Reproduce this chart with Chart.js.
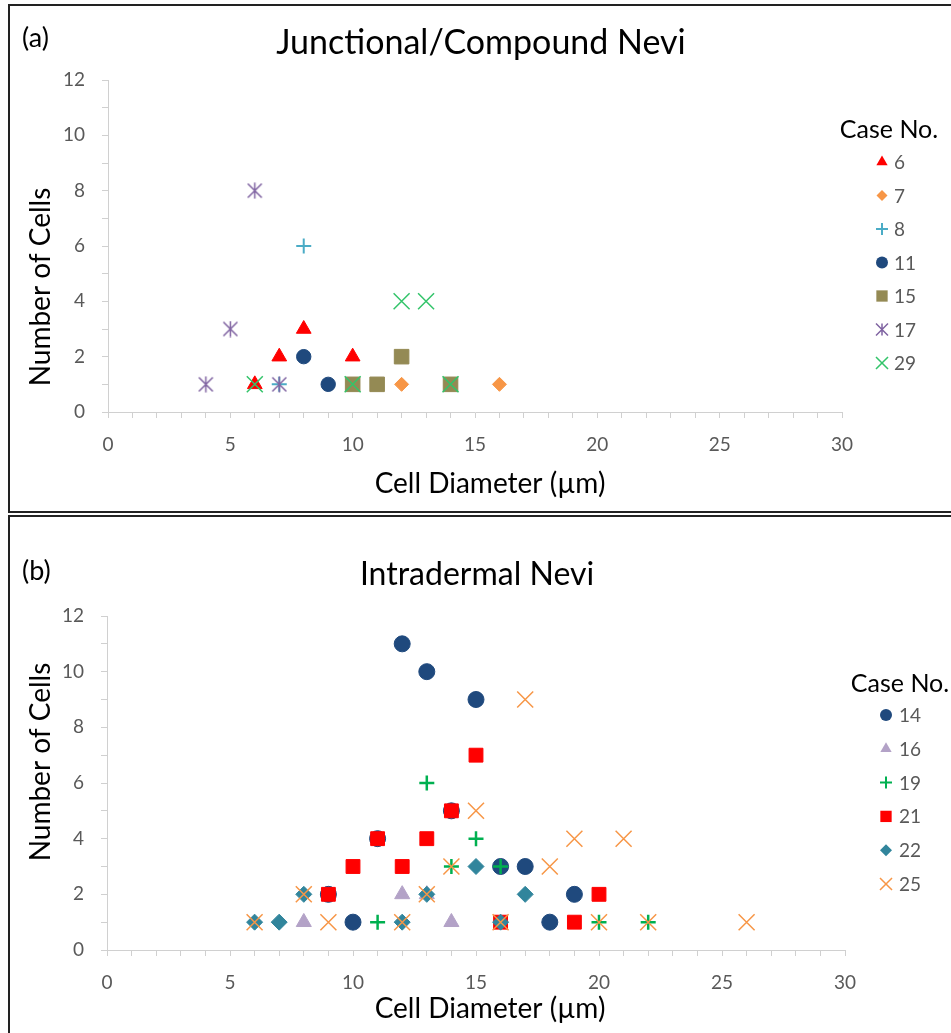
<!DOCTYPE html>
<html><head><meta charset="utf-8">
<script src="https://cdn.jsdelivr.net/npm/chart.js@4.4.1/dist/chart.umd.min.js"></script>
<style>
html,body{margin:0;padding:0;background:#fff;overflow:hidden;width:951px;height:1033px}
.panel{position:absolute;box-sizing:border-box;border:2px solid #222;pointer-events:none}
#p1{left:8px;top:4px;width:960px;height:509px;}
#p2{left:8px;top:515px;width:960px;height:540px;}
canvas{position:absolute;left:0}
#c1{top:0}
#c2{top:515px}
</style></head>
<body>
<canvas id="c1" width="951" height="515"></canvas>
<canvas id="c2" width="951" height="518"></canvas>
<div class="panel" id="p1"></div><div class="panel" id="p2"></div>
<script>
// ---------- data ----------
const xTickLabels = [0, 5, 10, 15, 20, 25, 30];
const yTickLabels = [0, 2, 4, 6, 8, 10, 12];

// (a) Junctional/Compound Nevi
const caseA = ['6', '7', '8', '11', '15', '17', '29'];
const a6x = [6, 7, 8, 10];            const a6y = [1, 2, 3, 2];
const a7x = [12, 16];                 const a7y = [1, 1];
const a8x = [7, 8];                   const a8y = [1, 6];
const a11x = [8, 9];                  const a11y = [2, 1];
const a15x = [10, 11, 12, 14];        const a15y = [1, 1, 2, 1];
const a17x = [4, 5, 6, 7];            const a17y = [1, 3, 8, 1];
const a29x = [6, 10, 12, 13, 14];     const a29y = [1, 1, 4, 4, 1];

// (b) Intradermal Nevi
const caseB = ['14', '16', '19', '21', '22', '25'];
const b14x = [9, 10, 11, 12, 13, 14, 15, 16, 17, 18, 19];
const b14y = [2, 1, 4, 11, 10, 5, 9, 3, 3, 1, 2];
const b16x = [8, 12, 13, 14];         const b16y = [1, 2, 2, 1];
const b19x = [11, 13, 14, 15, 16, 20, 22];
const b19y = [1, 6, 3, 4, 3, 1, 1];
const b21x = [9, 10, 11, 12, 13, 14, 15, 16, 19, 20];
const b21y = [2, 3, 4, 3, 4, 5, 7, 1, 1, 2];
const b22x = [6, 7, 8, 12, 13, 15, 16, 17];
const b22y = [1, 1, 2, 1, 2, 3, 1, 2];
const b25x = [6, 8, 9, 12, 13, 14, 15, 16, 17, 18, 19, 20, 21, 22, 26];
const b25y = [1, 2, 1, 1, 2, 3, 5, 1, 9, 3, 4, 1, 4, 1, 1];

// ---------- styles ----------
const FONT = 'Lato, "Open Sans", sans-serif';
const GREY = '#595959';
const AXIS = '#d0d0d0';

function asteriskCanvas(color, size, lw) {
  const c = document.createElement('canvas');
  c.width = size; c.height = size;
  const g = c.getContext('2d');
  g.strokeStyle = color; g.lineWidth = lw; g.lineCap = 'butt';
  const m = size / 2, e = 0.5;
  g.beginPath();
  g.moveTo(m, e); g.lineTo(m, size - e);
  g.moveTo(e + 1, e + 1); g.lineTo(size - e - 1, size - e - 1);
  g.moveTo(size - e - 1, e + 1); g.lineTo(e + 1, size - e - 1);
  g.stroke();
  return c;
}

const seriesA = [
  {label: caseA[0], x: a6x,  y: a6y,  color: '#FF0000', style: 'triangle', r: 8.5, bw: 1, lr: 6.5},
  {label: caseA[1], x: a7x,  y: a7y,  color: '#F79646', style: 'rectRot',  r: 7,   bw: 1, lr: 5.5},
  {label: caseA[2], x: a8x,  y: a8y,  color: '#4BACC6', style: 'cross',    r: 7.5, bw: 2, lr: 6},
  {label: caseA[3], x: a11x, y: a11y, color: '#1F497D', style: 'circle',   r: 7.2, bw: 1, lr: 6},
  {label: caseA[4], x: a15x, y: a15y, color: '#948A54', style: 'rect',     r: 10.3, bw: 1, lr: 8},
  {label: caseA[5], x: a17x, y: a17y, color: '#8064A2', style: 'asterisk', r: 8,   bw: 1.5, lr: 6},
  {label: caseA[6], x: a29x, y: a29y, color: '#33C46A', style: 'crossRot', r: 11.3, bw: 1.5, lr: 8.5}
];
const seriesB = [
  {label: caseB[0], x: b14x, y: b14y, color: '#1F497D', style: 'circle',   r: 8,   bw: 1, lr: 6},
  {label: caseB[1], x: b16x, y: b16y, color: '#B3A2C7', style: 'triangle', r: 8.7, bw: 1, lr: 6.5},
  {label: caseB[2], x: b19x, y: b19y, color: '#00B050', style: 'cross',    r: 7.5, bw: 2.5, lr: 6},
  {label: caseB[3], x: b21x, y: b21y, color: '#FF0000', style: 'rect',     r: 9.8, bw: 1, lr: 8},
  {label: caseB[4], x: b22x, y: b22y, color: '#31859C', style: 'rectRot',  r: 8,   bw: 1, lr: 6},
  {label: caseB[5], x: b25x, y: b25y, color: '#F79646', style: 'crossRot', r: 11.3, bw: 1.5, lr: 8.5}
];

function drawLegendMarker(ctx, s, x, y) {
  const r = s.lr;
  ctx.save();
  ctx.fillStyle = s.color; ctx.strokeStyle = s.color;
  ctx.beginPath();
  switch (s.style) {
    case 'triangle': {
      let a = 0;
      ctx.moveTo(x + Math.sin(a) * r, y - Math.cos(a) * r);
      a += 2 * Math.PI / 3; ctx.lineTo(x + Math.sin(a) * r, y - Math.cos(a) * r);
      a += 2 * Math.PI / 3; ctx.lineTo(x + Math.sin(a) * r, y - Math.cos(a) * r);
      ctx.closePath(); ctx.fill(); break;
    }
    case 'rectRot':
      ctx.moveTo(x, y - r); ctx.lineTo(x + r, y); ctx.lineTo(x, y + r); ctx.lineTo(x - r, y);
      ctx.closePath(); ctx.fill(); break;
    case 'circle':
      ctx.arc(x, y, r, 0, Math.PI * 2); ctx.fill(); break;
    case 'rect': {
      const h = r * Math.SQRT1_2;
      ctx.rect(x - h, y - h, 2 * h, 2 * h); ctx.fill(); break;
    }
    case 'cross':
      ctx.lineWidth = 2;
      ctx.moveTo(x - r, y); ctx.lineTo(x + r, y); ctx.moveTo(x, y - r); ctx.lineTo(x, y + r);
      ctx.stroke(); break;
    case 'crossRot': {
      const h = r * Math.SQRT1_2;
      ctx.lineWidth = 1.5;
      ctx.moveTo(x - h, y - h); ctx.lineTo(x + h, y + h); ctx.moveTo(x + h, y - h); ctx.lineTo(x - h, y + h);
      ctx.stroke(); break;
    }
    case 'asterisk':
      ctx.lineWidth = 1.5;
      ctx.moveTo(x, y - r); ctx.lineTo(x, y + r);
      ctx.moveTo(x - r, y - r); ctx.lineTo(x + r, y + r);
      ctx.moveTo(x + r, y - r); ctx.lineTo(x - r, y + r);
      ctx.stroke(); break;
  }
  ctx.restore();
}

function textPlugin(t) {
  return {
    id: 'texts',
    afterDraw(chart) {
      const ctx = chart.ctx;
      ctx.save();
      ctx.textBaseline = 'alphabetic';
      // panel letter
      ctx.fillStyle = '#000';
      ctx.font = '27px ' + FONT;
      ctx.textAlign = 'left';
      ctx.fillText(t.letter, t.letterX, t.letterY);
      // title
      ctx.font = t.titleSize + 'px ' + FONT;
      ctx.textAlign = 'center';
      ctx.fillText(t.title, t.titleX, t.titleY);
      // x title
      ctx.font = '28px ' + FONT;
      ctx.fillText('Cell Diameter (µm)', t.xtX, t.xtY);
      // y title
      ctx.save();
      ctx.translate(t.ytX, t.ytY);
      ctx.rotate(-Math.PI / 2);
      ctx.fillText('Number of Cells', 0, 0);
      ctx.restore();
      // legend
      ctx.font = '25px ' + FONT;
      ctx.fillText('Case No.', t.lgTitleX, t.lgTitleY);
      ctx.font = '19px ' + FONT;
      ctx.textAlign = 'left';
      t.series.forEach((s, i) => {
        const y = t.lgY0 + i * t.lgDy;
        drawLegendMarker(ctx, s, t.lgMx, y);
        ctx.fillStyle = GREY;
        ctx.fillText(s.label, t.lgTx, y + 7);
      });
      ctx.restore();
    }
  };
}

function makeChart(id, series, L, texts) {
  const n = series.length;
  const datasets = series.map((s, i) => ({
    label: s.label,
    data: s.x.map((v, k) => ({x: v, y: s.y[k]})),
    pointStyle: s.style === 'asterisk' ? asteriskCanvas(s.color, 17, s.bw) : s.style,
    pointRadius: s.r,
    pointHoverRadius: s.r,
    backgroundColor: s.color,
    borderColor: s.color,
    borderWidth: s.bw,
    showLine: false,
    order: n - i
  }));
  const canvas = document.getElementById(id);
  const W = canvas.width, H = canvas.height;
  return new Chart(canvas, {
    type: 'scatter',
    data: {datasets},
    options: {
      responsive: false,
      animation: false,
      events: [],
      layout: {padding: {left: 0, right: W - L.right, top: L.top, bottom: 0}},
      plugins: {legend: {display: false}, tooltip: {enabled: false}, title: {display: false}},
      scales: {
        x: {
          type: 'linear', min: 0, max: 30,
          afterFit: sc => { sc.height = H - L.bottom; },
          ticks: {
            stepSize: 1, autoSkip: false, maxRotation: 0, color: GREY, padding: 15,
            font: {family: FONT, size: 19},
            callback: v => xTickLabels.includes(v) ? String(v) : ''
          },
          grid: {display: true, drawOnChartArea: false, drawTicks: true, tickLength: 6, color: AXIS, lineWidth: 1},
          border: {display: true, color: AXIS, width: 1}
        },
        y: {
          type: 'linear', min: 0, max: 12,
          afterFit: sc => { sc.width = L.left; },
          ticks: {
            stepSize: 1, autoSkip: false, color: GREY, padding: 17,
            font: {family: FONT, size: 19},
            callback: v => yTickLabels.includes(v) ? String(v) : ''
          },
          grid: {display: true, drawOnChartArea: false, drawTicks: true, tickLength: 6, color: AXIS, lineWidth: 1},
          border: {display: true, color: AXIS, width: 1}
        }
      }
    },
    plugins: [textPlugin(Object.assign({series}, texts))]
  });
}

makeChart('c1', seriesA, {left: 108, right: 842, top: 80, bottom: 412}, {
  letter: '(a)', letterX: 22, letterY: 47,
  title: 'Junctional/Compound Nevi', titleSize: 34, titleX: 481, titleY: 54,
  xtX: 490, xtY: 493,
  ytX: 50, ytY: 287,
  lgTitleX: 889, lgTitleY: 138,
  lgMx: 882, lgTx: 894, lgY0: 162, lgDy: 33.5
});

makeChart('c2', seriesB, {left: 107, right: 845, top: 101, bottom: 435}, {
  letter: '(b)', letterX: 22, letterY: 65,
  title: 'Intradermal Nevi', titleSize: 32, titleX: 477, titleY: 70,
  xtX: 490, xtY: 503,
  ytX: 50, ytY: 247,
  lgTitleX: 900, lgTitleY: 177,
  lgMx: 886, lgTx: 899, lgY0: 200, lgDy: 33.8
});
</script>
</body></html>
